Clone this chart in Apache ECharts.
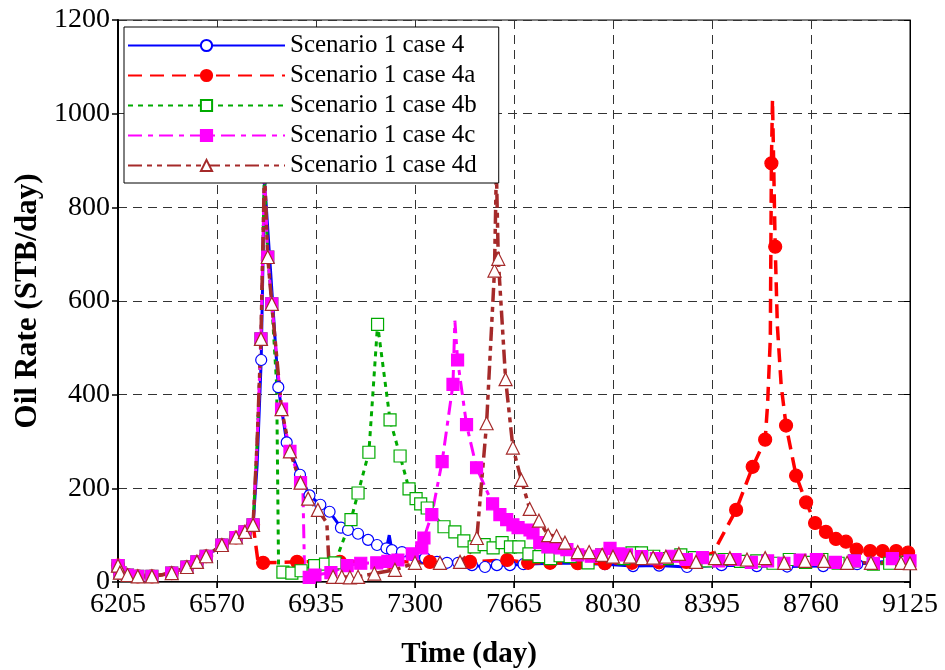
<!DOCTYPE html>
<html>
<head>
<meta charset="utf-8">
<script src="https://cdn.jsdelivr.net/npm/echarts@6/dist/echarts.min.js"></script>
<style>html,body{margin:0;padding:0;background:#fff}#chart{width:945px;height:670px}</style>
</head>
<body>
<div id="chart"></div>
<script>
// [day, oil rate], third value 0 = point drawn without a marker
var early = [[6205,35],[6212,20],[6240,15],[6278,12],[6330,12],[6403,19],[6459,32],[6496,43],[6530,55],[6588,79],[6640,95],[6673,107],[6703,122]];
var decay = [[6718,300,0],[6732,519],[6745,880,0],[6757,694],[6772,594]];

var case4 = early.concat([[6718,250,0],[6733,474],[6745,860,0],[6796,416],[6827,298],[6876,229],[6911,185],[6951,165],[6985,150],[7027,116],[7053,111],[7090,103],[7127,90],[7160,79],[7195,72],[7205,100,0],[7215,68],[7252,64],[7289,58],[7337,51],[7381,43],[7418,41],[7459,41],[7510,36],[7558,32],[7602,36],[7650,36],[7700,38],[7800,40],[7900,40],[8000,38],[8104,34],[8200,35],[8303,32],[8430,36],[8560,34],[8672,33],[8805,34],[8930,38],[9051,45],[9125,42]]);

var case4a = early.concat([[6722,40,0],[6740,41],[6865,43],[7023,43],[7208,43],[7355,43],[7503,43],[7640,47],[7717,41],[7798,41],[7900,40],[8000,40],[8100,41],[8200,42],[8300,43],[8399,62,0],[8484,154],[8545,246],[8591,304],[8600,380,0],[8610,520,0],[8614,894],[8618,1030,0],[8628,716],[8636,547,0],[8650,420,0],[8668,334],[8705,227],[8742,170],[8775,126],[8815,107],[8852,92],[8889,86],[8928,69],[8978,66],[9024,66],[9074,66],[9118,63]]);

var case4b = early.concat(decay, [[6790,420,0],[6797,30,0],[6813,21],[6846,19],[6880,24],[6930,35],[6970,38],[7005,41],[7064,133],[7090,190],[7130,277],[7162,550],[7208,346],[7245,269],[7278,199],[7304,178],[7321,167],[7345,158],[7407,118],[7447,107],[7480,88],[7518,75],[7555,80],[7588,73],[7621,84],[7652,75],[7683,75],[7720,60],[7757,54],[7800,50],[7835,56],[7872,54],[7938,41],[7988,58],[8030,55],[8070,50],[8100,62],[8135,62],[8180,55],[8230,50],[8280,58],[8330,52],[8380,45],[8440,48],[8500,44],[8560,45],[8620,40],[8680,48],[8740,42],[8800,48],[8860,40],[8920,45],[8990,38],[9050,40],[9110,42]]);

var case4c = early.concat(decay, [[6808,369],[6839,279],[6878,212],[6887,190,0],[6893,15,0],[6910,10],[6931,15],[6990,20],[7050,35],[7100,40],[7159,41],[7200,44],[7237,47],[7290,60],[7325,73],[7333,94],[7362,144],[7400,257],[7440,422],[7447,558,0],[7457,474],[7490,336],[7527,244],[7586,167],[7613,144],[7638,133],[7661,122],[7680,116],[7724,111],[7735,105],[7760,84],[7790,75],[7835,73],[7860,69],[7900,58],[7950,55],[7988,58],[8019,72],[8050,60],[8080,58],[8135,54],[8190,50],[8250,55],[8300,48],[8360,52],[8420,45],[8480,48],[8540,42],[8600,45],[8660,40],[8720,47],[8780,48],[8850,42],[8920,45],[8990,40],[9060,50],[9125,45]]);

var case4d = early.concat(decay, [[6808,369],[6839,279],[6878,212],[6906,178],[6942,154],[6975,126,0],[6985,15,0],[6998,11],[7030,11],[7060,10],[7090,11],[7150,18],[7226,26],[7300,41],[7392,41],[7466,43],[7500,60,0],[7528,94],[7564,339],[7593,665],[7600,880,0],[7607,690],[7634,433],[7661,287],[7692,218],[7723,156],[7757,131],[7791,100],[7822,98],[7853,84],[7900,64],[7942,64],[7990,58],[8030,54],[8093,54],[8137,51],[8178,52],[8225,54],[8273,60],[8336,43],[8406,51],[8461,51],[8524,48],[8591,51],[8661,41],[8738,45],[8808,45],[8893,41],[8981,41],[9092,41],[9125,40]]);

var names = ['Scenario 1 case 4','Scenario 1 case 4a','Scenario 1 case 4b','Scenario 1 case 4c','Scenario 1 case 4d'];

function pts(arr) {
    return arr.map(function (p) {
        if (p[2] === 0) return {value: [p[0], p[1]], symbol: 'none'};
        return [p[0], p[1]];
    });
}

function mkSeries(name, data, color, dash, width, symbol, size, fill) {
    return {
        name: name,
        type: 'line',
        data: pts(data),
        showAllSymbol: true,
        symbol: symbol,
        symbolSize: size,
        lineStyle: {color: color, width: width, type: dash},
        itemStyle: {color: fill, borderColor: color, borderWidth: 1.2},
        emphasis: {disabled: true},
        animation: false
    };
}

function plain(v) { return String(v); }

var serif = 'Liberation Serif';
var chart = echarts.init(document.getElementById('chart'));
var option = {
    backgroundColor: '#fff',
    grid: {left: 118, right: 35, top: 20, bottom: 88, outerBoundsMode: 'none', show: true, borderColor: '#000', borderWidth: 1},
    legend: {
        orient: 'vertical',
        left: 124,
        top: 27,
        padding: [5, 22, 4, 3],
        itemGap: 3,
        itemWidth: 157,
        itemHeight: 14,
        backgroundColor: '#fff',
        borderColor: '#000',
        borderWidth: 1,
        borderRadius: 0,
        textStyle: {fontFamily: serif, fontSize: 25, color: '#000', lineHeight: 27},
        data: names
    },
    xAxis: [{
        type: 'value',
        min: 6205,
        max: 9125,
        interval: 365,
        name: 'Time (day)',
        nameLocation: 'middle',
        nameGap: 58,
        nameTextStyle: {fontFamily: serif, fontSize: 29, fontWeight: 'bold', color: '#000', padding: [0, 90, 0, 0]},
        axisLine: {lineStyle: {color: '#000', width: 2}},
        axisTick: {length: 6, lineStyle: {color: '#000', width: 1.5}},
        axisLabel: {fontFamily: serif, fontSize: 28, color: '#000', margin: 9, formatter: plain},
        splitLine: {lineStyle: {color: '#333', type: [9, 6], width: 1}}
    }, {
        type: 'value',
        position: 'top',
        min: 6205,
        max: 9125,
        interval: 365,
        axisLine: {lineStyle: {color: '#555', width: 1}},
        axisTick: {inside: true, length: 6, lineStyle: {color: '#000'}},
        axisLabel: {show: false},
        splitLine: {show: false}
    }],
    yAxis: [{
        type: 'value',
        min: 0,
        max: 1200,
        interval: 200,
        name: 'Oil Rate (STB/day)',
        nameLocation: 'middle',
        nameGap: 63,
        nameTextStyle: {fontFamily: serif, fontSize: 31, fontWeight: 'bold', color: '#000'},
        axisLine: {lineStyle: {color: '#000', width: 2}},
        axisTick: {length: 6, lineStyle: {color: '#000', width: 1.5}},
        axisLabel: {fontFamily: serif, fontSize: 28, color: '#000', margin: 8, formatter: plain},
        splitLine: {lineStyle: {color: '#333', type: [9, 6], width: 1}}
    }, {
        type: 'value',
        position: 'right',
        min: 0,
        max: 1200,
        interval: 200,
        axisLine: {lineStyle: {color: '#000', width: 1}},
        axisTick: {inside: true, length: 6, lineStyle: {color: '#000'}},
        axisLabel: {show: false},
        splitLine: {show: false}
    }],
    series: [
        mkSeries(names[0], case4, '#0000ff', 'solid', 3, 'circle', 11, '#fff'),
        mkSeries(names[1], case4a, '#ff0000', [14, 8], 3.5, 'circle', 13, '#ff0000'),
        mkSeries(names[2], case4b, '#00aa00', [5, 5], 3, 'rect', 12, '#fff'),
        mkSeries(names[3], case4c, '#ff00ff', [14, 6, 5, 6], 3, 'rect', 12, '#ff00ff'),
        mkSeries(names[4], case4d, '#a52a2a', [14, 5, 5, 5, 5, 5], 3.5, 'triangle', 13, '#fff')
    ]
};
chart.setOption(option);
</script>
</body>
</html>
